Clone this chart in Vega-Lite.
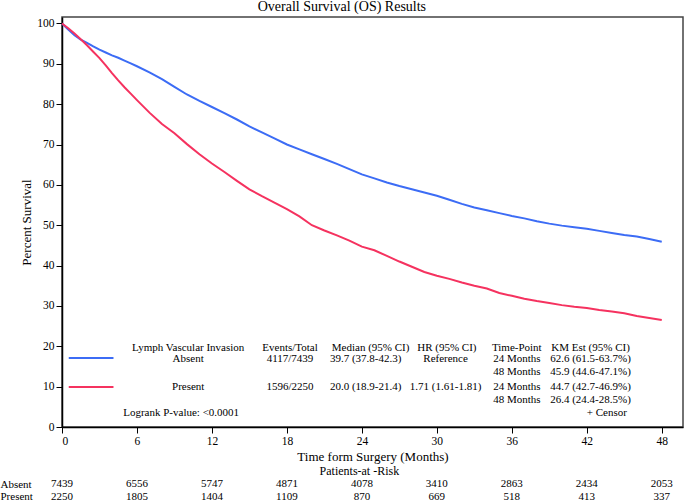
{
  "$schema": "https://vega.github.io/schema/vega-lite/v6.json",
  "padding": {"left": 0, "top": 0, "right": 2, "bottom": 0},
  "background": "white",
  "title": {"text": "Overall Survival (OS) Results", "anchor": "middle", "frame": "bounds", "fontSize": 14, "fontWeight": "normal", "font": "Liberation Serif", "color": "black", "offset": 2},
  "datasets": {
    "curves": [
      {"g":"Absent","m":0,"s":100},{"g":"Absent","m":0.5,"s":98.5},{"g":"Absent","m":1,"s":97.1},{"g":"Absent","m":1.5,"s":96.0},{"g":"Absent","m":2,"s":95.2},{"g":"Absent","m":2.5,"s":94.3},{"g":"Absent","m":3,"s":93.5},{"g":"Absent","m":3.5,"s":92.8},{"g":"Absent","m":4,"s":92.1},{"g":"Absent","m":4.5,"s":91.5},{"g":"Absent","m":5,"s":90.8},{"g":"Absent","m":5.5,"s":90.1},{"g":"Absent","m":6,"s":89.4},{"g":"Absent","m":7,"s":87.9},{"g":"Absent","m":8,"s":86.2},{"g":"Absent","m":9,"s":84.3},{"g":"Absent","m":10,"s":82.4},{"g":"Absent","m":11,"s":80.8},{"g":"Absent","m":12,"s":79.3},{"g":"Absent","m":13,"s":77.8},{"g":"Absent","m":14,"s":76.2},{"g":"Absent","m":15,"s":74.5},{"g":"Absent","m":16,"s":73.0},{"g":"Absent","m":17,"s":71.5},{"g":"Absent","m":18,"s":70.0},{"g":"Absent","m":19,"s":68.8},{"g":"Absent","m":20,"s":67.6},{"g":"Absent","m":21,"s":66.4},{"g":"Absent","m":22,"s":65.2},{"g":"Absent","m":23,"s":63.9},{"g":"Absent","m":24,"s":62.6},{"g":"Absent","m":25,"s":61.6},{"g":"Absent","m":26,"s":60.6},{"g":"Absent","m":27,"s":59.7},{"g":"Absent","m":28,"s":58.9},{"g":"Absent","m":29,"s":58.1},{"g":"Absent","m":30,"s":57.3},{"g":"Absent","m":31,"s":56.3},{"g":"Absent","m":32,"s":55.3},{"g":"Absent","m":33,"s":54.4},{"g":"Absent","m":34,"s":53.7},{"g":"Absent","m":35,"s":53.0},{"g":"Absent","m":36,"s":52.3},{"g":"Absent","m":37,"s":51.7},{"g":"Absent","m":38,"s":51.0},{"g":"Absent","m":39,"s":50.4},{"g":"Absent","m":40,"s":49.9},{"g":"Absent","m":41,"s":49.5},{"g":"Absent","m":42,"s":49.1},{"g":"Absent","m":43,"s":48.6},{"g":"Absent","m":44,"s":48.1},{"g":"Absent","m":45,"s":47.6},{"g":"Absent","m":46,"s":47.2},{"g":"Absent","m":47,"s":46.6},{"g":"Absent","m":48,"s":45.9},
      {"g":"Present","m":0,"s":100},{"g":"Present","m":0.5,"s":98.8},{"g":"Present","m":1,"s":97.5},{"g":"Present","m":1.5,"s":96.1},{"g":"Present","m":2,"s":94.6},{"g":"Present","m":2.5,"s":93.0},{"g":"Present","m":3,"s":91.4},{"g":"Present","m":3.5,"s":89.6},{"g":"Present","m":4,"s":87.7},{"g":"Present","m":4.5,"s":85.9},{"g":"Present","m":5,"s":84.2},{"g":"Present","m":5.5,"s":82.6},{"g":"Present","m":6,"s":81.0},{"g":"Present","m":7,"s":77.9},{"g":"Present","m":8,"s":75.1},{"g":"Present","m":9,"s":72.8},{"g":"Present","m":10,"s":70.1},{"g":"Present","m":11,"s":67.6},{"g":"Present","m":12,"s":65.3},{"g":"Present","m":13,"s":63.2},{"g":"Present","m":14,"s":61.0},{"g":"Present","m":15,"s":58.9},{"g":"Present","m":16,"s":57.2},{"g":"Present","m":17,"s":55.6},{"g":"Present","m":18,"s":54.0},{"g":"Present","m":19,"s":52.2},{"g":"Present","m":20,"s":50.0},{"g":"Present","m":21,"s":48.7},{"g":"Present","m":22,"s":47.5},{"g":"Present","m":23,"s":46.2},{"g":"Present","m":24,"s":44.7},{"g":"Present","m":25,"s":43.8},{"g":"Present","m":26,"s":42.4},{"g":"Present","m":27,"s":41.0},{"g":"Present","m":28,"s":39.7},{"g":"Present","m":29,"s":38.4},{"g":"Present","m":30,"s":37.5},{"g":"Present","m":31,"s":36.7},{"g":"Present","m":32,"s":35.8},{"g":"Present","m":33,"s":35.0},{"g":"Present","m":34,"s":34.3},{"g":"Present","m":35,"s":33.2},{"g":"Present","m":36,"s":32.5},{"g":"Present","m":37,"s":31.8},{"g":"Present","m":38,"s":31.2},{"g":"Present","m":39,"s":30.7},{"g":"Present","m":40,"s":30.2},{"g":"Present","m":41,"s":29.8},{"g":"Present","m":42,"s":29.5},{"g":"Present","m":43,"s":29.0},{"g":"Present","m":44,"s":28.6},{"g":"Present","m":45,"s":28.2},{"g":"Present","m":46,"s":27.5},{"g":"Present","m":47,"s":27.0},{"g":"Present","m":48,"s":26.5}
    ],
    "keylines": [
      {"g":"Absent","x1":0.54,"x2":4.12,"y":17.1},
      {"g":"Present","x1":0.54,"x2":4.12,"y":9.9}
    ],
    "inset": [
      {"m":10.1,"y":19.6,"t":"Lymph Vascular Invasion"},
      {"m":18.25,"y":19.6,"t":"Events/Total"},
      {"m":24.7,"y":19.6,"t":"Median  (95% CI)"},
      {"m":30.8,"y":19.6,"t":"HR (95% CI)"},
      {"m":36.4,"y":19.6,"t":"Time-Point"},
      {"m":42.3,"y":19.6,"t":"KM Est (95% CI)"},
      {"m":10.1,"y":16.9,"t":"Absent"},
      {"m":18.25,"y":16.9,"t":"4117/7439"},
      {"m":24.3,"y":16.9,"t":"39.7 (37.8-42.3)"},
      {"m":30.7,"y":16.9,"t":"Reference"},
      {"m":36.4,"y":16.9,"t":"24 Months"},
      {"m":42.3,"y":16.9,"t":"62.6 (61.5-63.7%)"},
      {"m":36.4,"y":13.7,"t":"48 Months"},
      {"m":42.3,"y":13.7,"t":"45.9 (44.6-47.1%)"},
      {"m":10.1,"y":9.9,"t":"Present"},
      {"m":18.25,"y":9.9,"t":"1596/2250"},
      {"m":24.3,"y":9.9,"t":"20.0 (18.9-21.4)"},
      {"m":30.7,"y":9.9,"t":"1.71 (1.61-1.81)"},
      {"m":36.4,"y":9.9,"t":"24 Months"},
      {"m":42.3,"y":9.9,"t":"44.7 (42.7-46.9%)"},
      {"m":36.4,"y":6.8,"t":"48 Months"},
      {"m":42.3,"y":6.8,"t":"26.4 (24.4-28.5%)"},
      {"m":43.6,"y":3.4,"t":"+ Censor"}
    ],
    "leftnote": [
      {"m":4.9,"y":3.4,"t":"Logrank P-value: <0.0001"}
    ],
    "risk": [
      {"row":"Absent","m":0,"n":"7439"},{"row":"Absent","m":6,"n":"6556"},{"row":"Absent","m":12,"n":"5747"},{"row":"Absent","m":18,"n":"4871"},{"row":"Absent","m":24,"n":"4078"},{"row":"Absent","m":30,"n":"3410"},{"row":"Absent","m":36,"n":"2863"},{"row":"Absent","m":42,"n":"2434"},{"row":"Absent","m":48,"n":"2053"},
      {"row":"Present","m":0,"n":"2250"},{"row":"Present","m":6,"n":"1805"},{"row":"Present","m":12,"n":"1404"},{"row":"Present","m":18,"n":"1109"},{"row":"Present","m":24,"n":"870"},{"row":"Present","m":30,"n":"669"},{"row":"Present","m":36,"n":"518"},{"row":"Present","m":42,"n":"413"},{"row":"Present","m":48,"n":"337"}
    ],
    "riskhead": [
      {"row":"hdr","m":23.8,"n":"Patients-at -Risk"}
    ]
  },
  "vconcat": [
    {
      "width": 621,
      "height": 410,
      "layer": [
        {
          "data": {"name": "curves"},
          "mark": {"type": "line", "strokeWidth": 2, "interpolate": "linear"},
          "encoding": {
            "x": {"field": "m", "type": "quantitative", "scale": {"domain": [0, 49.7], "nice": false, "zero": false},
                  "axis": {"values": [0,6,12,18,24,30,36,42,48], "title": "Time form Surgery (Months)", "grid": false, "titlePadding": 4}},
            "y": {"field": "s", "type": "quantitative", "scale": {"domain": [0, 101.6], "nice": false},
                  "axis": {"values": [0,10,20,30,40,50,60,70,80,90,100], "title": "Percent Survival", "grid": false, "titlePadding": 3}},
            "color": {"field": "g", "type": "nominal", "scale": {"domain": ["Absent","Present"], "range": ["#3c6cf5","#f5325f"]}, "legend": null}
          }
        },
        {
          "data": {"name": "keylines"},
          "mark": {"type": "rule", "strokeWidth": 2},
          "encoding": {
            "x": {"field": "x1", "type": "quantitative"},
            "x2": {"field": "x2"},
            "y": {"field": "y", "type": "quantitative"},
            "color": {"field": "g", "type": "nominal", "legend": null}
          }
        },
        {
          "data": {"name": "inset"},
          "mark": {"type": "text", "align": "center", "baseline": "middle", "fontSize": 11, "font": "Liberation Serif", "color": "black"},
          "encoding": {
            "x": {"field": "m", "type": "quantitative"},
            "y": {"field": "y", "type": "quantitative"},
            "text": {"field": "t"}
          }
        },
        {
          "data": {"name": "leftnote"},
          "mark": {"type": "text", "align": "left", "baseline": "middle", "fontSize": 11, "font": "Liberation Serif", "color": "black"},
          "encoding": {
            "x": {"field": "m", "type": "quantitative"},
            "y": {"field": "y", "type": "quantitative"},
            "text": {"field": "t"}
          }
        }
      ]
    },
    {
      "width": 621,
      "height": 38,
      "view": {"stroke": null},
      "layer": [
        {
          "data": {"name": "risk"},
          "mark": {"type": "text", "align": "center", "baseline": "middle", "fontSize": 11, "font": "Liberation Serif", "color": "black"},
          "encoding": {
            "x": {"field": "m", "type": "quantitative", "scale": {"domain": [0, 49.7], "nice": false, "zero": false}, "axis": null},
            "y": {"field": "row", "type": "nominal", "scale": {"domain": ["hdr","Absent","Present"]},
                  "axis": {"title": null, "domain": false, "ticks": false, "tickSize": 0, "labelAlign": "left", "labelPadding": 62, "labelExpr": "datum.value == 'hdr' ? '' : datum.value", "labelFontSize": 11}},
            "text": {"field": "n"}
          }
        },
        {
          "data": {"name": "riskhead"},
          "mark": {"type": "text", "align": "center", "baseline": "middle", "fontSize": 12, "font": "Liberation Serif", "color": "black"},
          "encoding": {
            "x": {"field": "m", "type": "quantitative"},
            "y": {"field": "row", "type": "nominal"},
            "text": {"field": "n"}
          }
        }
      ]
    }
  ],
  "spacing": 0,
  "resolve": {"scale": {"x": "independent", "y": "independent"}},
  "config": {
    "font": "Liberation Serif",
    "view": {"stroke": "#444444", "strokeWidth": 1.5},
    "axis": {
      "labelFont": "Liberation Serif", "titleFont": "Liberation Serif",
      "labelFontSize": 11.5, "titleFontSize": 13, "titleFontWeight": "normal",
      "labelColor": "black", "titleColor": "black",
      "domainColor": "black", "domainWidth": 1.5, "tickColor": "black", "tickSize": 6, "tickWidth": 1,
      "labelPadding": 2
    }
  }
}
